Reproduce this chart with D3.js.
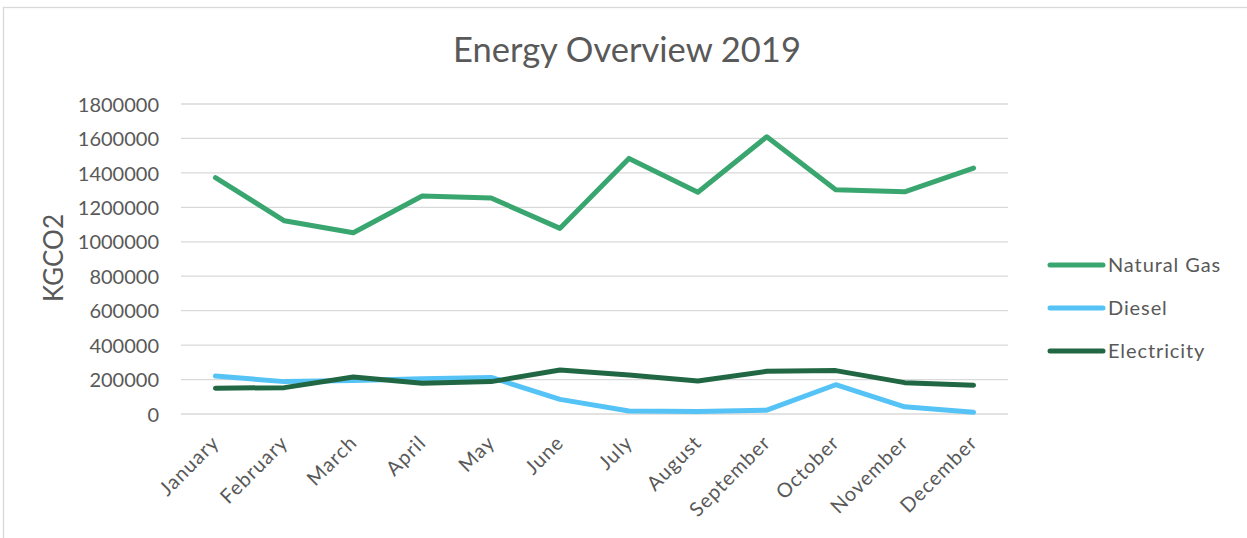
<!DOCTYPE html>
<html>
<head>
<meta charset="utf-8">
<script src="https://cdn.jsdelivr.net/npm/d3@7"></script>
<style>
  body { margin: 0; background: #fff; }
  svg text { font-family: "Lato", "Open Sans", sans-serif; fill: #595959; }
</style>
</head>
<body>
<svg id="chart" width="1247" height="538"></svg>
<script>
// data
const months = ["January", "February", "March", "April", "May", "June",
                "July", "August", "September", "October", "November", "December"];
const naturalGas  = [1372000, 1122000, 1052000, 1266000, 1254000, 1078000,
                     1484000, 1288000, 1610000, 1302000, 1290000, 1428000];
const diesel      = [220000, 188000, 195000, 205000, 212000, 85000,
                     17000, 15000, 22000, 170000, 42000, 10000];
const electricity = [150000, 153000, 215000, 178000, 188000, 256000,
                     226000, 192000, 248000, 252000, 182000, 167000];
const yTicks = [0, 200000, 400000, 600000, 800000, 1000000, 1200000, 1400000, 1600000, 1800000];
const seriesNames  = ["Natural Gas", "Diesel", "Electricity"];
const seriesColors = ["#3aa66f", "#55c3f6", "#216743"];

const series = [naturalGas, diesel, electricity].map((values, i) => ({
  name: seriesNames[i], color: seriesColors[i], values
}));

const svg = d3.select("#chart");

// outer border (chart area frame)
svg.append("rect")
  .attr("x", 3.5).attr("y", 7.5)
  .attr("width", 1260).attr("height", 540)
  .attr("fill", "none")
  .attr("stroke", "#d9d9d9")
  .attr("stroke-width", 1.3);

const plot = { left: 181, right: 1008, top: 104, bottom: 414 };

const x = d3.scaleBand()
  .domain(months)
  .range([plot.left, plot.right]);

const y = d3.scaleLinear()
  .domain([0, 1800000])
  .range([plot.bottom, plot.top]);

// gridlines
svg.append("g")
  .selectAll("line")
  .data(yTicks)
  .join("line")
    .attr("x1", plot.left)
    .attr("x2", plot.right)
    .attr("y1", d => y(d))
    .attr("y2", d => y(d))
    .attr("stroke", "#d9d9d9")
    .attr("stroke-width", 1.3);

// y axis labels
const yAxis = svg.append("g")
  .attr("transform", `translate(${plot.left - 22},0)`)
  .call(d3.axisLeft(y).tickValues(yTicks).tickFormat(d3.format("d")).tickSize(0).tickPadding(0));
yAxis.select(".domain").remove();
yAxis.selectAll("text")
  .attr("font-size", 20)
  .attr("dy", "0.36em")
  .attr("fill", "#595959");

// x axis labels
const xAxis = svg.append("g")
  .attr("transform", `translate(0,${plot.bottom})`)
  .call(d3.axisBottom(x).tickSize(0).tickPadding(0));
xAxis.select(".domain").remove();
xAxis.selectAll("text")
  .attr("font-size", 20)
  .attr("fill", "#595959")
  .attr("letter-spacing", 1)
  .attr("text-anchor", "end")
  .attr("dy", null)
  .attr("y", null)
  .attr("transform", "translate(5,30) rotate(-45)");

// lines
const line = d3.line()
  .x((d, i) => x(months[i]) + x.bandwidth() / 2)
  .y(d => y(d));

svg.append("g")
  .selectAll("path")
  .data(series)
  .join("path")
    .attr("d", d => line(d.values))
    .attr("fill", "none")
    .attr("stroke", d => d.color)
    .attr("stroke-width", 5)
    .attr("stroke-linejoin", "round")
    .attr("stroke-linecap", "round");

// y axis title
svg.append("text")
  .attr("transform", "translate(63,258) rotate(-90)")
  .attr("text-anchor", "middle")
  .attr("font-size", 26)
  .text("KGCO2");

// chart title
svg.append("text")
  .attr("x", 627)
  .attr("y", 62)
  .attr("text-anchor", "middle")
  .attr("font-size", 34.5)
  .text("Energy Overview 2019");

// legend
const legend = svg.append("g")
  .attr("transform", "translate(1048,265)");
series.forEach((s, i) => {
  const row = legend.append("g")
    .attr("transform", `translate(0,${i * 43})`);
  row.append("line")
    .attr("x1", 2).attr("x2", 55)
    .attr("stroke", s.color)
    .attr("stroke-width", 5)
    .attr("stroke-linecap", "round");
  row.append("text")
    .attr("x", 60)
    .attr("y", 7)
    .attr("font-size", 20)
    .attr("letter-spacing", 0.9)
    .text(s.name);
});
</script>
</body>
</html>
